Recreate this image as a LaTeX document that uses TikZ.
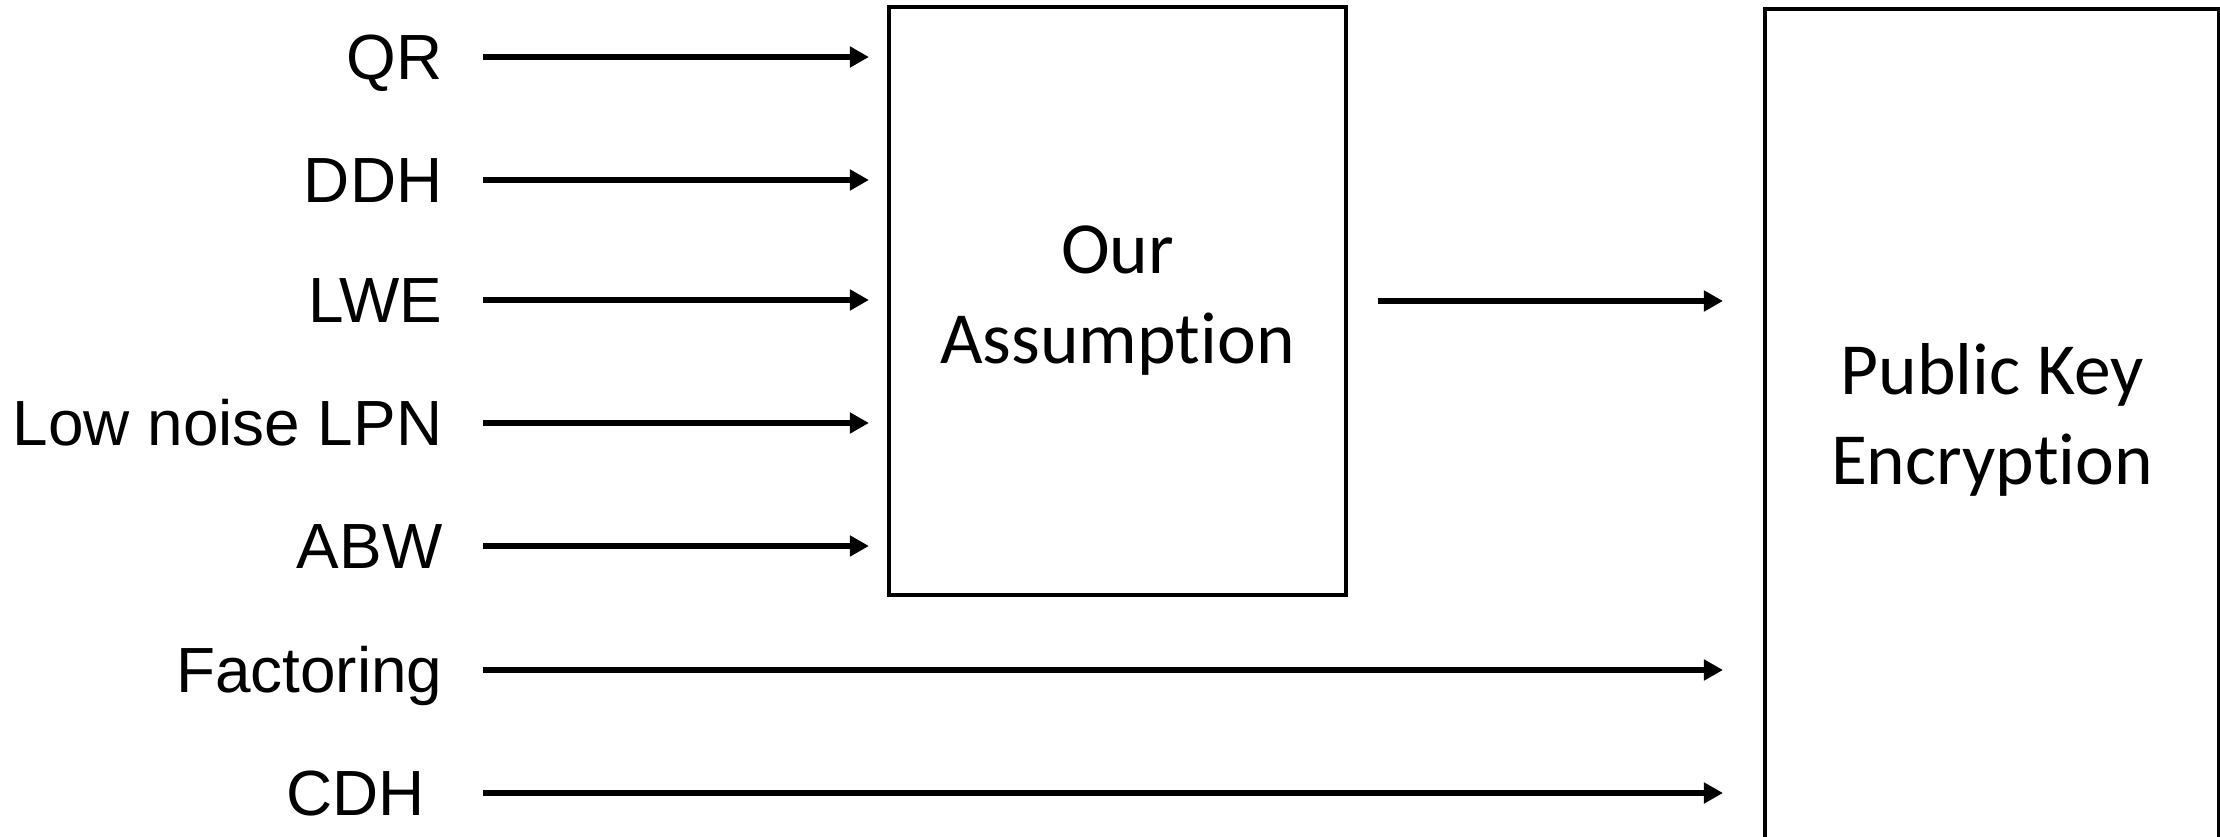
\documentclass[tikz,border=0pt]{standalone}
\usepackage{fontspec}
\setmainfont{Liberation Sans}
\newfontfamily\boxfont[Ligatures=NoCommon]{Carlito}
\usetikzlibrary{arrows.meta,calc}
\begin{document}
\begin{tikzpicture}[x=0.01cm,y=-0.01cm,
  lbl/.style={anchor=east,inner sep=0pt,text height=13pt,text depth=0pt,font=\fontsize{18.16}{20}\selectfont},
  arr/.style={line width=1.7pt,-{Triangle[length=0.19cm,width=0.20cm]}},
  blk/.style={draw,line width=1.1pt,inner sep=0pt},
  btxt/.style={align=center,font=\boxfont\fontsize{20.9}{25.6}\selectfont}]
\useasboundingbox (0,0) rectangle (2220,837);
% boxes
\node[blk,minimum width=4.57cm,minimum height=5.88cm,btxt] (ours) at (1117.5,301) {Our\\Assumption};
\node[blk,minimum width=4.54cm,minimum height=8.6cm,anchor=north west] (pke) at (1763,7) {};
\node[btxt] (pketext) at (1992,420) {Public Key\\Encryption};
% labels
\node[lbl] (qr)   at (443,57)  {QR};
\node[lbl] (ddh)  at (443,180) {DDH};
\node[lbl] (lwe)  at (443,300) {LWE};
\node[lbl] (lpn)  at (443,423) {Low noise LPN};
\node[lbl] (abw)  at (443,546) {ABW};
\node[lbl] (fac)  at (443,670) {Factoring};
\node[lbl] (cdh)  at (443,793) {CDH\kern0.278em\relax};
% arrows into our assumption
\foreach \n in {qr,ddh,lwe,lpn,abw}
  \draw[arr,shorten <=0.40cm,shorten >=0.18cm] (\n.east) -- (\n.east -| ours.west);
% long arrows
\foreach \n in {fac,cdh}
  \draw[arr,shorten <=0.40cm,shorten >=0.40cm] (\n.east) -- (\n.east -| pke.west);
% middle arrow
\draw[arr,shorten <=0.30cm,shorten >=0.40cm] (ours.east) -- (ours.east -| pke.west);
\end{tikzpicture}
\end{document}
